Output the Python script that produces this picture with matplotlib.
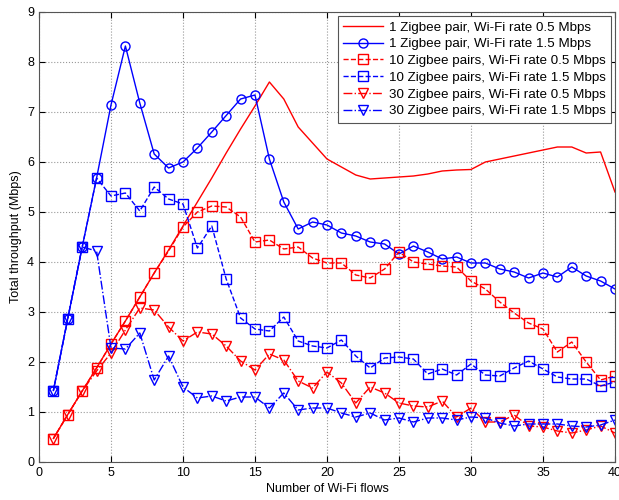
import matplotlib.pyplot as plt
import numpy as np

plt.rcParams['font.family'] = ['Liberation Sans', 'DejaVu Sans']

flows = list(range(1, 41))

# 1 Zigbee pair, Wi-Fi rate 0.5 Mbps
one_05 = [0.47, 0.95, 1.42, 1.88, 2.36, 2.82, 3.3, 3.78, 4.24, 4.72,
          5.2, 5.68, 6.18, 6.66, 7.12, 7.6, 7.26, 6.7, 6.38, 6.06,
          5.9, 5.74, 5.66, 5.68, 5.7, 5.72, 5.76, 5.82, 5.84, 5.85,
          6.0, 6.06, 6.12, 6.18, 6.24, 6.3, 6.3, 6.18, 6.2, 5.4]
# 1 Zigbee pair, Wi-Fi rate 1.5 Mbps
one_15 = [1.43, 2.87, 4.3, 5.68, 7.14, 8.32, 7.18, 6.16, 5.88, 6.0,
          6.28, 6.6, 6.93, 7.26, 7.34, 6.06, 5.2, 4.66, 4.8, 4.74,
          4.58, 4.52, 4.4, 4.36, 4.16, 4.32, 4.2, 4.06, 4.1, 3.98,
          3.98, 3.86, 3.8, 3.68, 3.78, 3.7, 3.9, 3.72, 3.62, 3.46]
# 10 Zigbee pairs, Wi-Fi rate 0.5 Mbps
ten_05 = [0.47, 0.95, 1.42, 1.88, 2.36, 2.82, 3.3, 3.78, 4.22, 4.7,
          5.0, 5.12, 5.1, 4.9, 4.4, 4.44, 4.26, 4.3, 4.08, 3.98,
          3.98, 3.74, 3.68, 3.86, 4.2, 4.0, 3.96, 3.92, 3.9, 3.62,
          3.46, 3.2, 2.98, 2.78, 2.66, 2.2, 2.4, 2.0, 1.64, 1.72]
# 10 Zigbee pairs, Wi-Fi rate 1.5 Mbps
ten_15 = [1.43, 2.87, 4.3, 5.68, 5.32, 5.38, 5.02, 5.5, 5.26, 5.16,
          4.28, 4.72, 3.66, 2.88, 2.66, 2.62, 2.9, 2.42, 2.32, 2.28,
          2.44, 2.12, 1.88, 2.08, 2.1, 2.06, 1.76, 1.86, 1.74, 1.96,
          1.74, 1.72, 1.88, 2.02, 1.86, 1.7, 1.66, 1.66, 1.52, 1.6]
# 30 Zigbee pairs, Wi-Fi rate 0.5 Mbps
thirty_05 = [0.47, 0.95, 1.42, 1.82, 2.18, 2.64, 3.08, 3.04, 2.7, 2.42,
             2.6, 2.56, 2.32, 2.02, 1.84, 2.16, 2.04, 1.62, 1.48, 1.8,
             1.58, 1.18, 1.5, 1.38, 1.18, 1.12, 1.1, 1.22, 0.9, 1.08,
             0.8, 0.8, 0.94, 0.72, 0.7, 0.62, 0.58, 0.64, 0.72, 0.58]
# 30 Zigbee pairs, Wi-Fi rate 1.5 Mbps
thirty_15 = [1.43, 2.87, 4.3, 4.22, 2.28, 2.26, 2.58, 1.64, 2.12, 1.5,
             1.28, 1.32, 1.22, 1.3, 1.3, 1.08, 1.38, 1.04, 1.08, 1.08,
             0.98, 0.9, 0.98, 0.84, 0.88, 0.8, 0.88, 0.88, 0.84, 0.9,
             0.88, 0.78, 0.72, 0.76, 0.76, 0.76, 0.72, 0.7, 0.74, 0.84]

fig = plt.figure(figsize=(6.19, 5), dpi=100)
ax = fig.add_axes([0.063, 0.076, 0.9305, 0.9])

ms = 6.5
lw = 1.0
ax.plot(flows, one_05, color='#ff0000', lw=lw,
        label='1 Zigbee pair, Wi-Fi rate 0.5 Mbps')
ax.plot(flows, one_15, color='#0000ff', lw=lw, marker='o', ms=ms, mfc='none',
        label='1 Zigbee pair, Wi-Fi rate 1.5 Mbps')
ax.plot(flows, ten_05, color='#ff0000', lw=lw, ls='--', marker='s', ms=ms, mfc='none',
        label='10 Zigbee pairs, Wi-Fi rate 0.5 Mbps')
ax.plot(flows, ten_15, color='#0000ff', lw=lw, ls='--', marker='s', ms=ms, mfc='none',
        label='10 Zigbee pairs, Wi-Fi rate 1.5 Mbps')
ax.plot(flows, thirty_05, color='#ff0000', lw=lw, ls='-.', marker='v', ms=ms + 1, mfc='none',
        label='30 Zigbee pairs, Wi-Fi rate 0.5 Mbps')
ax.plot(flows, thirty_15, color='#0000ff', lw=lw, ls='-.', marker='v', ms=ms + 1, mfc='none',
        label='30 Zigbee pairs, Wi-Fi rate 1.5 Mbps')

ax.set_xlim(0, 40)
ax.set_ylim(0, 9)
ax.set_xticks(np.arange(0, 41, 5))
ax.set_yticks(np.arange(0, 10, 1))
ax.tick_params(direction='in', labelsize=9, top=True, right=True, length=4)
ax.grid(True, ls=':', color='#999999', lw=0.8)
for s in ax.spines.values():
    s.set_color('#555555')
ax.set_xlabel('Number of Wi-Fi flows', fontsize=9, labelpad=3)
ax.set_ylabel('Total throughput (Mbps)', fontsize=9, labelpad=4)

leg = ax.legend(loc='upper right', fontsize=9.6, fancybox=False, framealpha=1,
                edgecolor='#555555', borderaxespad=0.3, handlelength=3.0,
                labelspacing=0.33, borderpad=0.4, handletextpad=0.4)
leg.get_frame().set_linewidth(0.8)

plt.savefig('out.png', dpi=100)
